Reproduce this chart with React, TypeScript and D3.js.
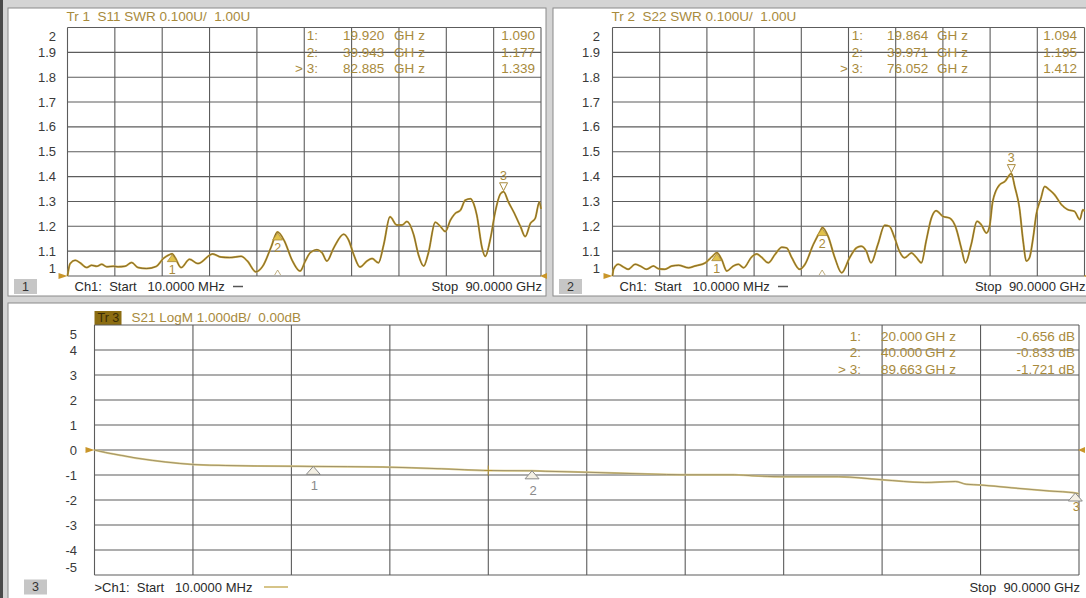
import React from "react";
import * as d3 from "d3";

// ---------- data ----------
const freqGrid = [0, 9, 18, 27, 36, 45, 54, 63, 72, 81, 90];

const swrTicks = [2, 1.9, 1.8, 1.7, 1.6, 1.5, 1.4, 1.3, 1.2, 1.1, 1];
const swrTickLabels = ["2", "1.9", "1.8", "1.7", "1.6", "1.5", "1.4", "1.3", "1.2", "1.1", "1"];
const dbTicks = [5, 4, 3, 2, 1, 0, -1, -2, -3, -4, -5];
const dbTickLabels = ["5", "4", "3", "2", "1", "0", "-1", "-2", "-3", "-4", "-5"];

const s11Freq = [0, 0.5, 1.45, 2.4, 3.65, 4.6, 5.55, 6.5, 7.45, 8.7, 9.65, 10.9, 12.2, 13.4, 15.0, 16.9, 18.2, 19.4, 19.9, 20.4, 21.6, 23.2, 24.8, 27.6, 29.2, 30.8, 33.0, 34.2, 35.8, 37.1, 38.7, 39.9, 41.2, 42.7, 44.2, 45.2, 46.1, 47.4, 48.4, 49.3, 50.6, 52.5, 53.4, 54.4, 55.6, 56.9, 57.9, 59.1, 60.1, 61.3, 62.6, 63.6, 64.5, 65.8, 66.7, 67.7, 68.6, 69.9, 70.9, 71.8, 72.8, 73.7, 74.7, 75.6, 76.6, 77.2, 77.8, 78.8, 79.4, 80.4, 81.3, 82.3, 82.9, 83.8, 84.8, 86.1, 87.0, 88.0, 88.9, 89.7, 90];
const s11Swr = [1.0, 1.05, 1.063, 1.053, 1.034, 1.043, 1.039, 1.047, 1.037, 1.039, 1.037, 1.039, 1.054, 1.034, 1.03, 1.039, 1.07, 1.086, 1.09, 1.076, 1.034, 1.067, 1.05, 1.089, 1.076, 1.074, 1.079, 1.06, 1.017, 1.039, 1.116, 1.177, 1.142, 1.063, 1.02, 1.06, 1.093, 1.106, 1.093, 1.06, 1.113, 1.168, 1.146, 1.086, 1.036, 1.06, 1.07, 1.053, 1.126, 1.238, 1.205, 1.205, 1.219, 1.166, 1.086, 1.04, 1.093, 1.216, 1.199, 1.179, 1.225, 1.252, 1.265, 1.305, 1.311, 1.291, 1.245, 1.113, 1.079, 1.152, 1.258, 1.331, 1.339, 1.298, 1.258, 1.199, 1.159, 1.212, 1.232, 1.298, 1.27];

const s22Freq = [0, 0.2, 1.1, 2.1, 3.0, 4.3, 5.3, 6.5, 7.8, 8.8, 10.0, 11.3, 12.6, 14.5, 15.7, 17.7, 18.9, 19.9, 20.8, 21.8, 23.0, 24.0, 25.0, 26.5, 27.5, 28.4, 29.7, 31.0, 32.3, 33.2, 34.2, 35.7, 36.7, 38.3, 39.6, 40.0, 41.1, 42.4, 43.7, 45.2, 46.5, 47.4, 48.4, 49.3, 50.6, 51.9, 52.8, 53.8, 54.7, 55.7, 57.0, 57.9, 58.9, 59.8, 60.8, 61.7, 63.0, 64.3, 65.5, 66.5, 67.3, 68.4, 69.5, 70.3, 71.3, 71.9, 72.5, 73.8, 74.8, 76.05, 76.7, 77.6, 78.3, 78.9, 79.5, 80.2, 80.8, 81.7, 82.4, 83.3, 84.3, 85.6, 86.8, 88.1, 89.1, 89.7, 90];
const s22Swr = [1.0, 1.027, 1.047, 1.036, 1.027, 1.047, 1.04, 1.027, 1.04, 1.029, 1.027, 1.04, 1.043, 1.033, 1.04, 1.053, 1.076, 1.094, 1.067, 1.02, 1.04, 1.047, 1.033, 1.076, 1.089, 1.076, 1.053, 1.087, 1.116, 1.113, 1.073, 1.027, 1.047, 1.127, 1.18, 1.195, 1.16, 1.073, 1.013, 1.073, 1.113, 1.12, 1.1, 1.053, 1.127, 1.204, 1.2, 1.153, 1.1, 1.073, 1.093, 1.076, 1.053, 1.14, 1.233, 1.263, 1.24, 1.233, 1.193, 1.113, 1.053, 1.127, 1.22, 1.207, 1.173, 1.2, 1.3, 1.367, 1.38, 1.412, 1.36, 1.273, 1.14, 1.06, 1.073, 1.153, 1.247, 1.313, 1.36, 1.347, 1.327, 1.287, 1.267, 1.26, 1.227, 1.267, 1.26];

const s21Freq = [0, 1, 2.5, 4.07, 6.5, 9.0, 12, 14.9, 20, 26.3, 31.7, 36, 40, 41.2, 45, 50.6, 54, 58.5, 60.1, 63, 68, 72, 75.9, 78.7, 79.7, 81, 83.8, 87.3, 89.663, 90];
const s21Db = [0, -0.1, -0.22, -0.34, -0.48, -0.58, -0.62, -0.64, -0.656, -0.68, -0.75, -0.82, -0.833, -0.85, -0.89, -0.96, -0.99, -0.99, -1.03, -1.07, -1.07, -1.19, -1.3, -1.26, -1.37, -1.4, -1.51, -1.64, -1.721, -1.75];

const s11MarkerFreq = [19.92, 39.943, 82.885];
const s11MarkerVal = [1.09, 1.177, 1.339];
const s22MarkerFreq = [19.864, 39.971, 76.052];
const s22MarkerVal = [1.094, 1.195, 1.412];
const s21MarkerFreq = [20.0, 40.0, 89.663];
const s21MarkerVal = [-0.656, -0.833, -1.721];
const markerNames = ["1:", "2:", "> 3:"];

// ---------- styling ----------
const FONT = "'Liberation Sans', Arial, Helvetica, sans-serif";
const GOLD = "#a88a3c";
const GRID = "#5c5c5c";

type PanelDef = {
  fx0: number; fy0: number; fx1: number; fy1: number;
  gx0: number; gy0: number; gx1: number; gy1: number;
  yMin: number; yMax: number;
  ticks: number[]; tickLabels: string[]; tickRight: number;
  freq: number[]; vals: number[];
  mFreq: number[]; mVal: number[]; unit: string;
  header: string; trLabel: string; chText: string; num: string;
  tableLabelRight: number; tableFreqLeft: number; tableGhzLeft: number; tableValRight: number;
  tableBase: number[];
  footBase: number; boxX: number; chX: number; dash0: number; dash1: number;
  bottom: boolean;
};

function Panel({ p }: { p: PanelDef }) {
  const x = d3.scaleLinear().domain([0, 90]).range([p.gx0, p.gx1]);
  const y = d3.scaleLinear().domain([p.yMin, p.yMax]).range([p.gy1, p.gy0]);
  const line = d3
    .line<number>()
    .x((_, i) => x(p.freq[i]))
    .y((d) => y(d))
    .curve(d3.curveMonotoneX);
  const path = line(p.vals) || "";
  const nT = p.ticks.length;
  const refVal = p.bottom ? 0 : 1;
  return (
    <g>
      <rect x={p.fx0} y={p.fy0} width={p.fx1 - p.fx0} height={p.fy1 - p.fy0} fill="#ffffff" stroke="#8a8a8a" strokeWidth={1} />
      {p.bottom ? (
        <g>
          <rect x={p.gx0} y={p.gy0 - 14} width={27} height={14} fill="#8c6d12" />
          <text x={p.gx0 + 3} y={p.gy0 - 3} fontFamily={FONT} fontSize={12.5} fill="#3b2c05">{p.trLabel}</text>
          <text x={p.gx0 + 37} y={p.gy0 - 3} fontFamily={FONT} fontSize={13.5} fill={GOLD} xmlSpace="preserve">{p.header}</text>
        </g>
      ) : (
        <text x={p.gx0 - 1} y={p.gy0 - 7} fontFamily={FONT} fontSize={13.5} fill={GOLD} xmlSpace="preserve">{p.trLabel + "  " + p.header}</text>
      )}
      {freqGrid.map((f, i) => (
        <line key={"v" + i} x1={x(f)} x2={x(f)} y1={p.gy0} y2={p.gy1} stroke={GRID} strokeWidth={1.1} />
      ))}
      {p.ticks.map((t, i) => (
        <line key={"h" + i} x1={p.gx0} x2={p.gx1} y1={y(t)} y2={y(t)} stroke={GRID} strokeWidth={1.1} />
      ))}
      {p.ticks.map((t, i) => {
        let yy = y(t);
        if (i === 0) yy += 9;
        if (i === nT - 1) yy -= 7.5;
        return (
          <text key={"l" + i} x={p.tickRight} y={yy + 4.5} textAnchor="end" fontFamily={FONT} fontSize={13} fill="#3a3a3a">
            {p.tickLabels[i]}
          </text>
        );
      })}
      {p.mFreq.map((f, i) => (
        <g key={"t" + i} fontFamily={FONT} fontSize={13.5} fill={GOLD}>
          <text x={p.tableLabelRight} y={p.tableBase[i]} textAnchor="end" xmlSpace="preserve">{markerNames[i]}</text>
          <text x={p.tableFreqLeft} y={p.tableBase[i]}>{f.toFixed(3)}</text>
          <text x={p.tableGhzLeft} y={p.tableBase[i]}>
            GH<tspan dx={4}>z</tspan>
          </text>
          <text x={p.tableValRight} y={p.tableBase[i]} textAnchor="end">{p.mVal[i].toFixed(3) + p.unit}</text>
        </g>
      ))}
      {p.bottom ? (
        <g>
          <path d={path} fill="none" stroke="#dccb85" strokeWidth={2} />
          <path d={path} fill="none" stroke="#857a5e" strokeWidth={0.7} />
        </g>
      ) : (
        <g>
          <path d={path} fill="none" stroke="#c9a232" strokeWidth={2} />
          <path d={path} fill="none" stroke="#665632" strokeWidth={0.75} />
        </g>
      )}
      <path d={`M${p.gx0 - 9},${y(refVal) - 3} L${p.gx0},${y(refVal)} L${p.gx0 - 9},${y(refVal) + 3} Z`} fill="#c9962a" />
      <path d={`M${p.gx1 + 6},${y(refVal) - 3} L${p.gx1 - 1},${y(refVal)} L${p.gx1 + 6},${y(refVal) + 3} Z`} fill="#c9962a" />
      {p.mFreq.map((f, i) => {
        const mx = x(f);
        const my = y(p.mVal[i]);
        const active = i === 2;
        if (p.bottom) {
          return (
            <g key={"m" + i}>
              <path d={`M${mx},${my} L${mx - 7},${my + 8} L${mx + 7},${my + 8} Z`} fill="#f4f0e4" stroke="#8a8a8a" strokeWidth={1} />
              <text x={mx + 1} y={my + (active ? 18 : 24)} textAnchor="middle" fontFamily={FONT} fontSize={13} fill={active ? GOLD : "#8a8a8a"}>{String(i + 1)}</text>
            </g>
          );
        }
        if (active) {
          return (
            <g key={"m" + i}>
              <path d={`M${mx},${my - 1} L${mx - 4},${my - 9} L${mx + 4},${my - 9} Z`} fill="none" stroke={GOLD} strokeWidth={1} />
              <text x={mx} y={my - 12} textAnchor="middle" fontFamily={FONT} fontSize={12.5} fill={GOLD}>3</text>
            </g>
          );
        }
        return (
          <g key={"m" + i}>
            <path d={`M${mx},${my + 1} L${mx - 5},${my + 8} L${mx + 5},${my + 8} Z`} fill="#e2c24a" stroke={GOLD} strokeWidth={0.8} />
            <text x={mx} y={my + 20} textAnchor="middle" fontFamily={FONT} fontSize={12.5} fill={GOLD}>{String(i + 1)}</text>
            {i === 1 ? (
              <path d={`M${mx - 3},${p.gy1 - 1} L${mx},${p.gy1 - 6} L${mx + 3},${p.gy1 - 1}`} fill="none" stroke="#b09a60" strokeWidth={0.8} />
            ) : null}
          </g>
        );
      })}
      {p.bottom ? (
        <path d={`M${x(36) - 4},${y(-0.82)} L${x(36) + 4},${y(-0.82)} M${x(36)},${y(-0.82) - 5} L${x(36)},${y(-0.82) + 5}`} stroke="#b0903a" strokeWidth={1} />
      ) : null}
      <rect x={p.boxX} y={p.footBase - 12} width={23} height={15} fill="#c6c6c6" />
      <text x={p.boxX + 11.5} y={p.footBase - 0.5} textAnchor="middle" fontFamily={FONT} fontSize={12.5} fill="#333">{p.num}</text>
      <text x={p.chX} y={p.footBase} fontFamily={FONT} fontSize={13} fill="#2a2a2a" xmlSpace="preserve">{p.chText}</text>
      <line x1={p.dash0} x2={p.dash1} y1={p.footBase - 4.5} y2={p.footBase - 4.5} stroke={p.bottom ? "#c8b060" : "#555"} strokeWidth={1.5} />
      <text x={p.gx1 + 1} y={p.footBase} textAnchor="end" fontFamily={FONT} fontSize={13} fill="#2a2a2a" xmlSpace="preserve">Stop  90.0000 GHz</text>
    </g>
  );
}

const panels: PanelDef[] = [
  {
    fx0: 8, fy0: 8, fx1: 546, fy1: 296,
    gx0: 67.5, gy0: 27.5, gx1: 541, gy1: 276,
    yMin: 1, yMax: 2, ticks: swrTicks, tickLabels: swrTickLabels, tickRight: 56,
    freq: s11Freq, vals: s11Swr, mFreq: s11MarkerFreq, mVal: s11MarkerVal, unit: "",
    header: "S11 SWR 0.100U/  1.00U", trLabel: "Tr 1", chText: "Ch1:  Start   10.0000 MHz", num: "1",
    tableLabelRight: 318, tableFreqLeft: 343, tableGhzLeft: 394, tableValRight: 535,
    tableBase: [40, 56.5, 73],
    footBase: 291, boxX: 14, chX: 74.5, dash0: 233, dash1: 243,
    bottom: false,
  },
  {
    fx0: 553, fy0: 8, fx1: 1090, fy1: 296,
    gx0: 612.5, gy0: 27.5, gx1: 1084.5, gy1: 276,
    yMin: 1, yMax: 2, ticks: swrTicks, tickLabels: swrTickLabels, tickRight: 600,
    freq: s22Freq, vals: s22Swr, mFreq: s22MarkerFreq, mVal: s22MarkerVal, unit: "",
    header: "S22 SWR 0.100U/  1.00U", trLabel: "Tr 2", chText: "Ch1:  Start   10.0000 MHz", num: "2",
    tableLabelRight: 863, tableFreqLeft: 887, tableGhzLeft: 937, tableValRight: 1077,
    tableBase: [40, 56.5, 73],
    footBase: 291, boxX: 559, chX: 619.5, dash0: 778, dash1: 788,
    bottom: false,
  },
  {
    fx0: 8, fy0: 303, fx1: 1090, fy1: 600,
    gx0: 94.5, gy0: 325, gx1: 1079, gy1: 575,
    yMin: -5, yMax: 5, ticks: dbTicks, tickLabels: dbTickLabels, tickRight: 77,
    freq: s21Freq, vals: s21Db, mFreq: s21MarkerFreq, mVal: s21MarkerVal, unit: " dB",
    header: "S21 LogM 1.000dB/  0.00dB", trLabel: "Tr 3", chText: ">Ch1:  Start   10.0000 MHz", num: "3",
    tableLabelRight: 861, tableFreqLeft: 881, tableGhzLeft: 925, tableValRight: 1075,
    tableBase: [340.5, 357, 374],
    footBase: 591.5, boxX: 24, chX: 94.5, dash0: 264, dash1: 288,
    bottom: true,
  },
];

export default function App() {
  return (
    <div style={{ position: "fixed", left: 0, top: 0, width: 1086, height: 598, overflow: "hidden" }}>
      <svg width={1086} height={598} viewBox="0 0 1086 598" style={{ display: "block" }}>
        <rect x={0} y={0} width={1086} height={598} fill="#d4d4d4" />
        <rect x={0} y={0} width={3} height={598} fill="#4a4a4a" />
        {panels.map((p, i) => (
          <Panel key={i} p={p} />
        ))}
      </svg>
    </div>
  );
}
